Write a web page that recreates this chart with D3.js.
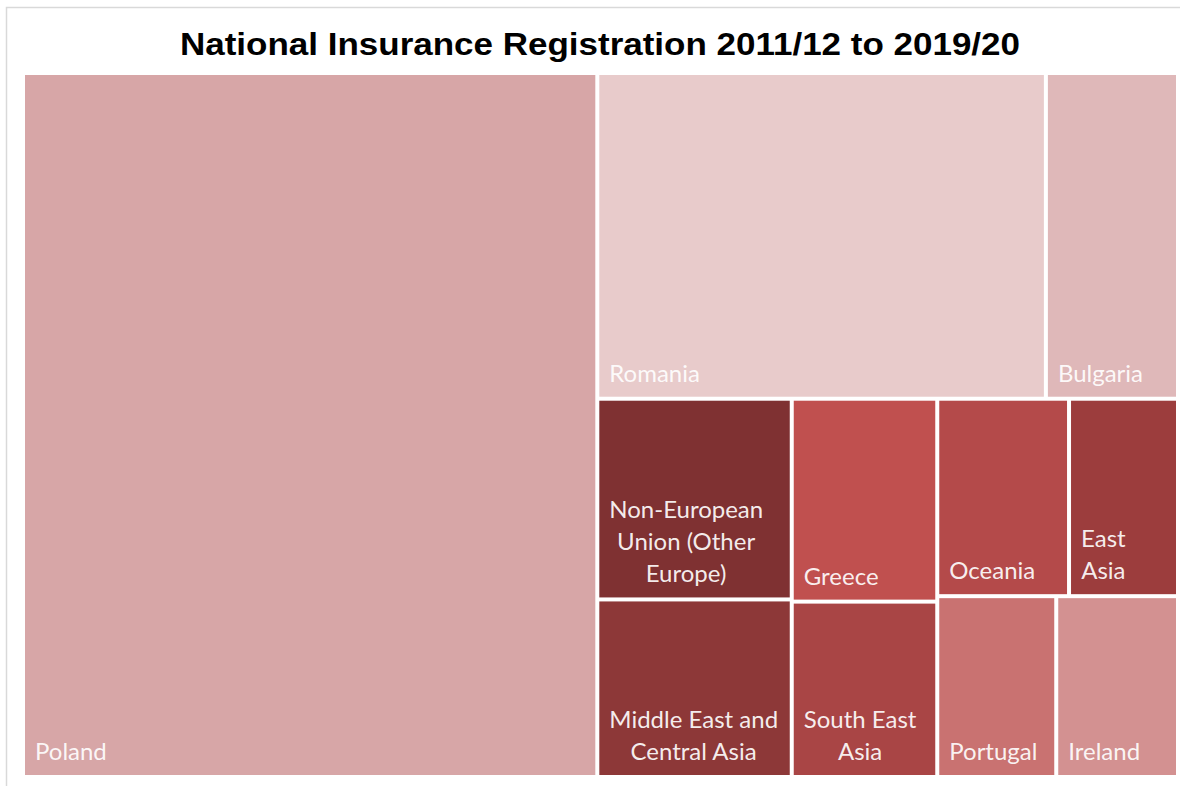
<!DOCTYPE html>
<html><head><meta charset="utf-8">
<script src="https://cdn.jsdelivr.net/npm/d3@7"></script>
<style>
html,body{margin:0;padding:0;background:#fff;}
svg{display:block;}
</style></head>
<body>
<svg id="chart" width="1180" height="786"></svg>
<script>
// Data (estimated, thousands of registrations)
const categories = ["Poland","Romania","Bulgaria","Non-European Union (Other Europe)","Middle East and Central Asia","Greece","South East Asia","Oceania","East Asia","Portugal","Ireland"];
const values     = [808, 292, 86, 78, 69, 59, 51, 52, 43, 43, 44];
const labelLines = [["Poland"],["Romania"],["Bulgaria"],["Non-European","Union (Other","Europe)"],["Middle East and","Central Asia"],["Greece"],["South East","Asia"],["Oceania"],["East","Asia"],["Portugal"],["Ireland"]];
const colors     = ["#d7a6a7","#e8cbcb","#dfb8b9","#7f3132","#8d3838","#c0504f","#a94545","#b44a4a","#9c3d3d","#c97271","#d39191"];
// grouping (layout structure only, by category index)
const layoutGroups = [0, [[1,2],[[3,4],[5,6],[[7,8],[9,10]]]]];
const title = "National Insurance Registration 2011/12 to 2019/20";

const svg = d3.select("#chart");

// frame
svg.append("path").attr("d","M6.5,786 V7.5 H1180").attr("fill","none").attr("stroke","#d9d9d9").attr("stroke-width",1.5);

svg.append("text").attr("x",180).attr("y",55)
  .attr("font-family","Liberation Sans, Arial, sans-serif").attr("font-weight","bold")
  .attr("font-size",31).attr("fill","#000")
  .attr("textLength",840).attr("lengthAdjust","spacingAndGlyphs").text(title);

function build(g){
  if (typeof g === "number") return {name: categories[g], idx: g, value: values[g]};
  return {children: g.map(build)};
}
const root = d3.hierarchy(build(layoutGroups)).sum(d => d.value || 0);
d3.treemap().size([1151,700]).paddingInner(4).tile(d3.treemapSliceDice)(root);

const g = svg.append("g").attr("transform","translate(25,75)");
const leaves = g.selectAll("g.leaf").data(root.leaves()).join("g").attr("class","leaf");
leaves.append("rect")
  .attr("x",d=>d.x0).attr("y",d=>d.y0)
  .attr("width",d=>d.x1-d.x0).attr("height",d=>d.y1-d.y0)
  .attr("fill",d=>colors[d.data.idx]);

const fs = 24, lh = 32;
leaves.each(function(d){
  const lines = labelLines[d.data.idx];
  const t = d3.select(this).append("text")
    .attr("font-family","Lato, 'Open Sans', sans-serif").attr("font-size",fs)
    .attr("fill","#fff").attr("fill-opacity",0.92);
  const spans = lines.map((l,i)=> t.append("tspan").text(l));
  const widths = spans.map(s=>s.node().getComputedTextLength());
  const maxW = d3.max(widths);
  const left = d.x0 + 10;
  const lastBase = d.y1 - 15;
  spans.forEach((s,i)=>{
    s.attr("x", left + (maxW - widths[i])/2)
     .attr("y", lastBase - (lines.length-1-i)*lh);
  });
});
</script>
</body></html>
